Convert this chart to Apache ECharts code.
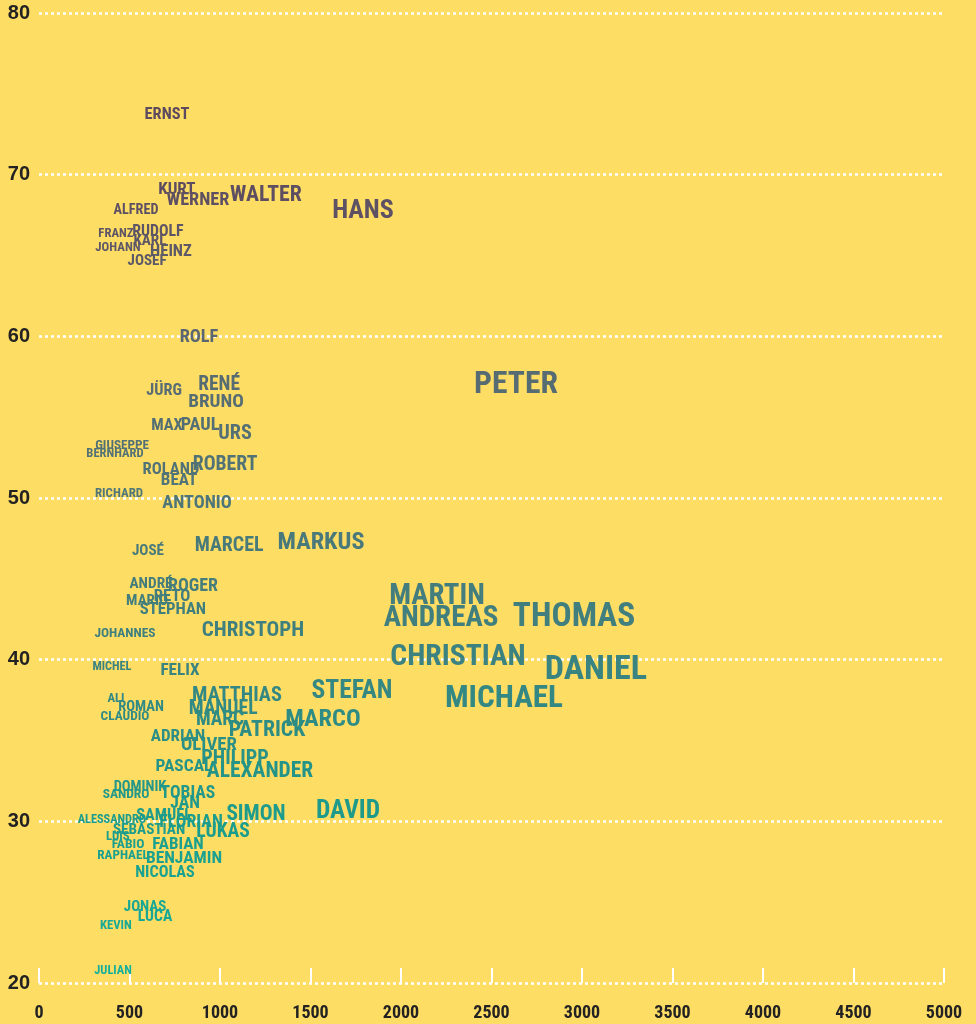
<!DOCTYPE html>
<html>
<head>
<meta charset="utf-8">
<script src="https://cdn.jsdelivr.net/npm/echarts@6/dist/echarts.min.js"></script>
<style>
html,body{margin:0;padding:0;background:#fedd65;}
#chart{width:976px;height:1024px;}
</style>
</head>
<body>
<div id="chart"></div>
<script>
var names = ["ERNST","KURT","WERNER","WALTER","HANS","ALFRED","FRANZ","RUDOLF","KARL","JOHANN","HEINZ","JOSEF",
"ROLF","RENÉ","JÜRG","BRUNO","PETER","MAX","PAUL","URS","GIUSEPPE","BERNHARD","ROLAND","ROBERT","BEAT","RICHARD","ANTONIO",
"MARKUS","MARCEL","JOSÉ","ANDRÉ","ROGER","RETO","MARIO","STEPHAN","JOHANNES","CHRISTOPH","MICHEL","FELIX",
"MARTIN","ANDREAS","THOMAS","CHRISTIAN","DANIEL","MICHAEL","STEFAN","MATTHIAS","ALI","ROMAN","MANUEL","CLAUDIO","MARC","MARCO",
"PATRICK","ADRIAN","OLIVER","PHILIPP","PASCAL","ALEXANDER","DOMINIK","SANDRO","TOBIAS","JAN","SIMON","DAVID","SAMUEL",
"ALESSANDRO","FLORIAN","SEBASTIAN","LUKAS","LUIS","FABIO","FABIAN","RAPHAEL","BENJAMIN","NICOLAS","JONAS","LUCA","KEVIN","JULIAN"];
var counts = [707,762,878,1254,1790,536,425,657,613,436,729,597,
884,995,691,978,2635,707,890,1083,459,420,729,1028,774,442,873,
1558,1050,602,619,851,735,597,740,475,1182,403,779,
2199,2221,2956,2315,3077,2569,1729,1094,425,564,1017,475,1000,1569,
1260,768,939,1083,801,1221,558,481,823,807,1199,1707,691,
403,840,608,1017,436,492,768,464,801,696,586,641,425,409];
var ages = [73.7,69.05,68.4,68.7,67.75,67.8,66.33,66.46,65.9,65.47,65.22,64.66,
59.96,57.0,56.6,55.94,57.0,54.46,54.5,53.96,53.22,52.73,51.74,52.05,51.06,50.25,49.64,
47.22,47.04,46.73,44.69,44.5,43.88,43.64,43.08,41.6,41.78,39.56,39.31,
43.88,42.52,42.58,40.11,39.31,37.58,38.0,37.76,37.58,37.02,36.96,36.46,36.28,36.28,
35.6,35.23,34.73,33.87,33.37,33.06,32.07,31.64,31.7,31.08,30.4,30.59,30.34,
30.09,29.91,29.47,29.35,29.04,28.55,28.55,27.87,27.68,26.82,24.71,24.1,23.54,20.75];
var xTicks = [0,500,1000,1500,2000,2500,3000,3500,4000,4500,5000];
var yTicks = [20,30,40,50,60,70,80];

var palette = ['#14b09c','#1c9c8c','#3b8280','#4f7678','#5b6770','#5e4a5f'];
function colorFor(age){
  var t = Math.max(0, Math.min(1, (age - 20) / 50));
  return echarts.color.lerp(t, palette);
}

var data = names.map(function(n,i){
  var fs = Math.round(0.615 * Math.sqrt(counts[i]) * 10) / 10;
  return {
    value:[counts[i], ages[i], n],
    label:{fontSize: fs, color: colorFor(ages[i]), offset:[0, Math.round(fs*0.08)]}
  };
});

var chart = echarts.init(document.getElementById('chart'), null, {renderer:'canvas'});
chart.setOption({
  backgroundColor:'#fedd65',
  animation:false,
  grid:{left:39,right:32,top:13,bottom:41},
  xAxis:{
    type:'value',min:xTicks[0],max:xTicks[xTicks.length-1],interval:500,
    axisLine:{show:false},
    axisTick:{show:true,inside:true,length:15,lineStyle:{color:'#ffffff',width:2}},
    splitLine:{show:false},
    axisLabel:{margin:21,color:'#222',fontSize:18,fontWeight:'bold',fontStyle:'condensed',
      fontFamily:"Roboto, 'DejaVu Sans Condensed', sans-serif",
      formatter:function(v){return String(v);}}
  },
  yAxis:{
    type:'value',min:yTicks[0],max:yTicks[yTicks.length-1],interval:10,
    axisLine:{show:false},axisTick:{show:false},
    splitLine:{show:true,lineStyle:{color:'#ffffff',width:2.5,type:[3,3]}},
    axisLabel:{margin:9,color:'#222',fontSize:20,fontWeight:'bold',fontFamily:'Liberation Sans, Arial, sans-serif'}
  },
  series:[{
    type:'scatter',
    symbol:'circle',
    symbolSize:0,
    itemStyle:{opacity:1},
    silent:true,
    data:data,
    label:{
      show:true,position:'inside',opacity:1,textBorderWidth:0,
      formatter:function(p){return p.value[2];},
      fontWeight:'bold',fontStyle:'condensed',
      fontFamily:"Roboto, 'DejaVu Sans Condensed', sans-serif"
    },
    labelLayout:{hideOverlap:false},
    emphasis:{disabled:true}
  }]
});
</script>
</body>
</html>
